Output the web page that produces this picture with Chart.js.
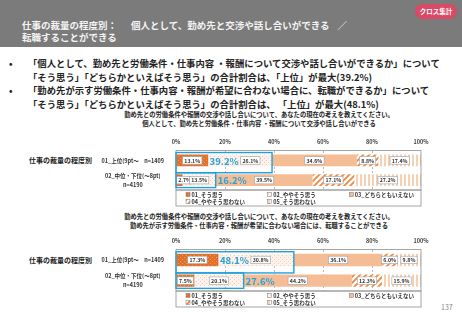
<!DOCTYPE html>
<html lang="ja">
<head>
<meta charset="utf-8">
<script src="https://cdn.jsdelivr.net/npm/chart.js@4.4.1/dist/chart.umd.min.js"></script>
<style>
  body { margin:0; width:462px; height:320px; position:relative; background:#fff; font-family:'Noto Sans CJK JP', sans-serif; overflow:hidden; }
  .header { position:absolute; left:0; top:0; width:462px; height:47px; background:#7b7b7b; }
  .header .ttl { position:absolute; left:22px; top:20px; color:#f4f4f4; font-size:9.5px; line-height:11.5px; font-weight:bold; white-space:nowrap; }
  .pill { position:absolute; left:415px; top:4px; width:42px; height:15px; border-radius:8px; background:#d94a66; color:#fff; font-size:6.5px; font-weight:bold; text-align:center; line-height:15px; }
  .bullets { position:absolute; left:0; top:57px; font-size:9.35px; line-height:13.7px; font-weight:bold; color:#222; white-space:nowrap; }
  .bullets div { position:relative; padding-left:28px; }
  .bullets div::before { content:'•'; position:absolute; left:9px; }
  .ctitle { position:absolute; left:100px; width:318px; text-align:center; font-size:6.3px; line-height:9px; font-weight:bold; color:#222; white-space:nowrap; }
  .side { position:absolute; left:29px; font-size:7px; line-height:10px; font-weight:bold; color:#222; }
  .page { position:absolute; left:441px; top:302px; font-size:7px; color:#888; }
  canvas { position:absolute; }
</style>
</head>
<body>
<div class="header">
  <div class="ttl">仕事の裁量の程度別：<span style="margin-left:14px">個人として、勤め先と交渉や話し合いができる</span><span style="margin-left:8px">／</span><br>転職することができる</div>
</div>
<div class="pill">クロス集計</div>
<div class="bullets">
  <div>「個人として、勤め先と労働条件・仕事内容 ・報酬について交渉や話し合いができるか」について<br>「そう思う」「どちらかといえばそう思う」の合計割合は、「上位」が最大(39.2%)</div>
  <div>「勤め先が示す労働条件・仕事内容・報酬が希望に合わない場合に、転職ができるか」について<br>「そう思う」「どちらかといえばそう思う」の合計割合は、 「上位」が最大(48.1%)</div>
</div>

<div class="ctitle" style="top:110px">勤め先との労働条件や報酬の交渉や話し合いについて、あなたの現在の考えを教えてください。<br>個人として、勤め先と労働条件・仕事内容 ・報酬について交渉や話し合いができる</div>
<div class="side" style="top:155px">仕事の裁量の程度別</div>
<canvas id="chart1" width="340" height="78" style="left:100px;top:130px;width:340px;height:78px"></canvas>

<div class="ctitle" style="top:212px">勤め先との労働条件や報酬の交渉や話し合いについて、あなたの現在の考えを教えてください。<br>勤め先が示す労働条件・仕事内容・報酬が希望に合わない場合には、転職することができる</div>
<div class="side" style="top:255px">仕事の裁量の程度別</div>
<canvas id="chart2" width="340" height="80" style="left:100px;top:229px;width:340px;height:80px"></canvas>

<div class="page">137</div>

<script>
// ---- data ----
const categories = ['01_上位(9pt～　n=1409', ['02_中位・下位(～8pt)', 'n=4190']];
const seriesNames = ['01_そう思う', '02_ややそう思う', '03_どちらともいえない', '04_ややそう思わない', '05_そう思わない'];
const tickLabels = ['0%', '20%', '40%', '60%', '80%', '100%'];

// 交渉や話し合いができる
const negoAgree = [13.1, 2.7];
const negoSomewhatAgree = [26.1, 13.5];
const negoNeutral = [34.6, 39.5];
const negoSomewhatDisagree = [8.8, 17.1];
const negoDisagree = [17.4, 27.2];

// 転職することができる
const jobAgree = [17.3, 7.5];
const jobSomewhatAgree = [30.8, 20.1];
const jobNeutral = [36.1, 44.2];
const jobSomewhatDisagree = [6.0, 12.3];
const jobDisagree = [9.8, 15.9];

Chart.defaults.font.family = "'Noto Sans CJK JP', sans-serif";

// ---- fills ----
function makePattern(w, h, draw) {
  const c = document.createElement('canvas');
  c.width = w; c.height = h;
  const g = c.getContext('2d');
  draw(g);
  return g.createPattern(c, 'repeat');
}
const pAgree = makePattern(4, 4, g => {
  g.fillStyle = '#e3702a'; g.fillRect(0, 0, 4, 4);
  g.fillStyle = '#f09a5e'; g.fillRect(0, 0, 1, 1); g.fillRect(2, 2, 1, 1);
});
const pSomewhatAgree = makePattern(4, 4, g => {
  g.fillStyle = '#fdf3ec'; g.fillRect(0, 0, 4, 4);
  g.fillStyle = '#f1cdb3'; g.fillRect(0, 0, 1, 1); g.fillRect(2, 2, 1, 1);
});
const pNeutral = '#f5bd95';
const pSomewhatDisagree = makePattern(6, 6, g => {
  g.fillStyle = '#ffffff'; g.fillRect(0, 0, 6, 6);
  g.strokeStyle = '#ee8740'; g.lineWidth = 1.8;
  g.beginPath();
  g.moveTo(-1, 7); g.lineTo(7, -1);
  g.moveTo(-4, 4); g.lineTo(4, -4);
  g.moveTo(2, 10); g.lineTo(10, 2);
  g.stroke();
});
const pDisagree = makePattern(4, 4, g => {
  g.fillStyle = '#ffffff'; g.fillRect(0, 0, 4, 4);
  g.fillStyle = '#f7cfb1'; g.fillRect(0, 0, 2, 4);
});
const fills = [pAgree, pSomewhatAgree, pNeutral, pSomewhatDisagree, pDisagree];

// ---- frame, legend, labels, highlight boxes ----
const barDecor = {
  id: 'barDecor',
  afterDatasetsDraw(chart) {
    const { ctx, chartArea: a, scales: { x } } = chart;
    const ds = chart.data.datasets;
    ctx.save();

    // plot frame + legend box
    ctx.strokeStyle = '#8f8f8f';
    ctx.lineWidth = 0.8;
    ctx.strokeRect(a.left, a.top, a.right - a.left, a.bottom - a.top);
    ctx.strokeRect(a.left, a.bottom, a.right - a.left, 16);

    // legend
    ctx.font = 'bold 5.5px "Noto Sans CJK JP"';
    ctx.textBaseline = 'middle';
    ctx.textAlign = 'left';
    const colW = (a.right - a.left) / 3;
    ds.forEach((d, i) => {
      const lx = a.left + 10 + (i % 3) * colW;
      const ly = a.bottom + 4.5 + Math.floor(i / 3) * 7;
      ctx.fillStyle = d.backgroundColor;
      ctx.fillRect(lx, ly - 2, 4, 4);
      ctx.strokeStyle = '#777';
      ctx.lineWidth = 0.5;
      ctx.strokeRect(lx, ly - 2, 4, 4);
      ctx.fillStyle = '#333';
      ctx.fillText(d.label, lx + 5.5, ly);
    });

    // big totals (first two series)
    const rows = chart.data.labels.length;
    const bigBoxes = [];
    const m0 = chart.getDatasetMeta(0).data;
    for (let r = 0; r < rows; r++) {
      const total = ds[0].data[r] + ds[1].data[r];
      const seg1 = m0[r].getProps(['x'], true);
      const left = r === 0 ? seg1.x + 1.5 : x.getPixelForValue(total) + 2;
      ctx.font = 'bold 9.5px "Noto Sans CJK JP"';
      const w = ctx.measureText(total.toFixed(1) + '%').width;
      bigBoxes.push({ left, right: left + w, total, y: m0[r].y });
    }

    // value labels
    ctx.font = 'bold 5.2px "Noto Sans CJK JP"';
    ctx.textAlign = 'center';
    ds.forEach((d, di) => {
      chart.getDatasetMeta(di).data.forEach((el, r) => {
        const p = el.getProps(['x', 'base', 'y'], true);
        const txt = d.data[r].toFixed(1) + '%';
        const w = ctx.measureText(txt).width + 3.5;
        const h = 7.5;
        let cx = (p.x + p.base) / 2;
        cx = Math.max(cx, a.left + 0.5 + w / 2);
        const bb = bigBoxes[r];
        if (cx + w / 2 > bb.left && cx - w / 2 < bb.right) cx = bb.right + 2 + w / 2;
        ctx.fillStyle = '#fff';
        ctx.fillRect(cx - w / 2, p.y - h / 2, w, h);
        ctx.strokeStyle = '#a0a0a0';
        ctx.lineWidth = 0.6;
        ctx.strokeRect(cx - w / 2, p.y - h / 2, w, h);
        ctx.fillStyle = '#333';
        ctx.fillText(txt, cx, p.y + 0.3);
      });
    });

    // blue highlight boxes
    const b0 = m0[0].getProps(['y', 'height'], true);
    const b1 = m0[1].getProps(['y', 'height'], true);
    const topA = b0.y - b0.height / 2 - 2;
    const midY = b1.y - b1.height / 2 - 1.5;
    const botB = b1.y + b1.height / 2 + 1.5;
    ctx.strokeStyle = '#1fa0dc';
    ctx.lineWidth = 1.4;
    ctx.strokeRect(a.left, topA, x.getPixelForValue(bigBoxes[0].total) - a.left, midY - topA);
    ctx.strokeRect(a.left, midY, x.getPixelForValue(bigBoxes[1].total) - a.left, botB - midY);

    ctx.font = 'bold 9.5px "Noto Sans CJK JP"';
    ctx.textAlign = 'left';
    ctx.fillStyle = '#25a3de';
    bigBoxes.forEach(bb => ctx.fillText(bb.total.toFixed(1) + '%', bb.left, bb.y + 0.5));

    ctx.restore();
  }
};

function makeChart(id, values) {
  return new Chart(document.getElementById(id), {
    type: 'bar',
    data: {
      labels: categories,
      datasets: seriesNames.map((name, i) => ({
        label: name,
        data: values[i],
        backgroundColor: fills[i],
        borderWidth: 0,
        barPercentage: 0.6,
        categoryPercentage: 1
      }))
    },
    options: {
      indexAxis: 'y',
      responsive: false,
      animation: false,
      layout: { padding: { top: 4, right: 19, bottom: 18, left: 0 } },
      plugins: { legend: { display: false }, tooltip: { enabled: false } },
      scales: {
        x: {
          position: 'top',
          stacked: true,
          min: 0,
          max: 100,
          ticks: { stepSize: 20, padding: 5, color: '#444', font: { size: 5.5, weight: 'bold' }, callback: (v, i) => tickLabels[i] },
          grid: { drawTicks: false, lineWidth: 0.8, color: c => (c.index === 0 || c.index === 5) ? 'rgba(0,0,0,0)' : '#a8a8a8' },
          border: { display: false, dash: [2, 2] }
        },
        y: {
          stacked: true,
          afterFit: s => { s.width = 76; },
          ticks: { autoSkip: false, crossAlign: 'center', padding: 4, color: '#333', font: { size: 5.5, weight: 'bold', lineHeight: 1.6 } },
          grid: { display: false },
          border: { display: false }
        }
      }
    },
    plugins: [barDecor]
  });
}

makeChart('chart1', [negoAgree, negoSomewhatAgree, negoNeutral, negoSomewhatDisagree, negoDisagree]);
makeChart('chart2', [jobAgree, jobSomewhatAgree, jobNeutral, jobSomewhatDisagree, jobDisagree]);
</script>
</body>
</html>
